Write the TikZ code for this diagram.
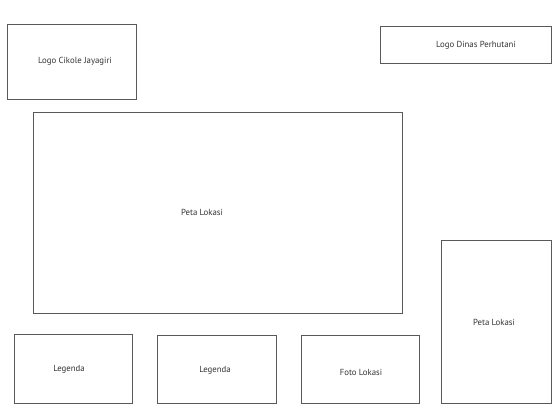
\documentclass[tikz,border=0pt]{standalone}
\usepackage{fontspec}
\setmainfont{PT Sans}

\newcommand*{\pgwidth}{559}
\newcommand*{\pgheight}{414}

\begin{document}
\begin{tikzpicture}
[
	x=1bp, y=-1bp,
	panel/.style={draw=black!65, line width=1bp},
	caption/.style={inner sep=0pt, text=black!80, font=\fontsize{8.8}{10}\selectfont}
]

	\useasboundingbox (0,0) rectangle (\pgwidth,\pgheight);

	% header
	\draw[panel] (7,24) rectangle (136,99);
	\node[caption] at (75,61) (logoCikole) {Logo Cikole Jayagiri};

	\draw[panel] (380,26) rectangle (551,63);
	\node[caption] at (476,45) (logoDinas) {Logo Dinas Perhutani};

	% main map
	\draw[panel] (33,112) rectangle (402,313);
	\node[caption] at (202,212) (petaMain) {Peta Lokasi};

	% side map
	\draw[panel] (441,240) rectangle (551,403);
	\node[caption] at (494,322) (petaSide) {Peta Lokasi};

	% bottom row
	\draw[panel] (14,334) rectangle (132,403);
	\node[caption] at (69,369) (legendA) {Legenda};

	\draw[panel] (157,335) rectangle (276,403);
	\node[caption] at (215,370) (legendB) {Legenda};

	\draw[panel] (301,335) rectangle (419,403);
	\node[caption] at (361,372) (fotoLokasi) {Foto Lokasi};

\end{tikzpicture}
\end{document}
